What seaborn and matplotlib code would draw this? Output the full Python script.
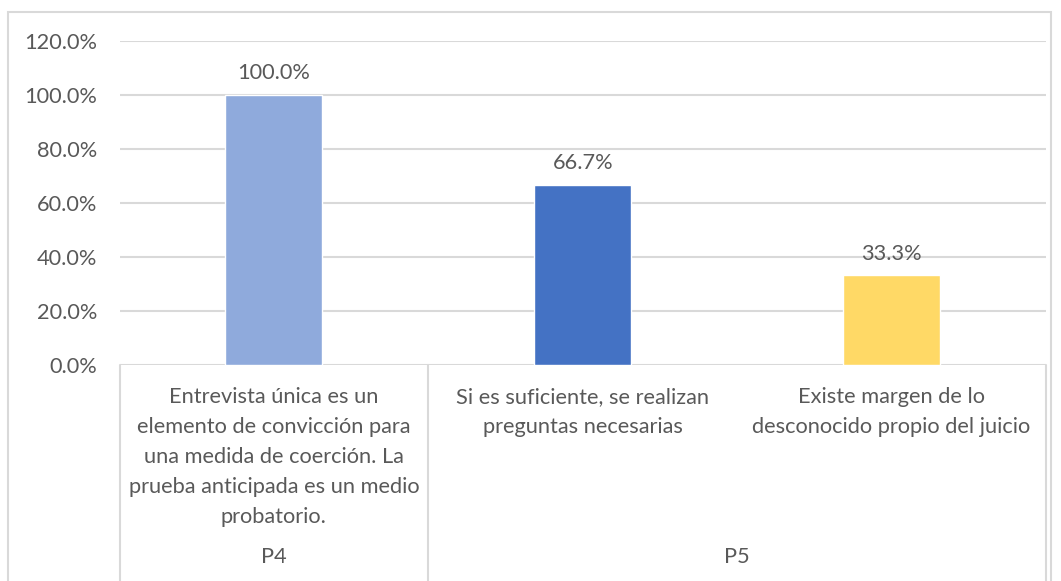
import matplotlib
matplotlib.use("Agg")
import matplotlib.pyplot as plt
import matplotlib.transforms as mtransforms
from matplotlib.patches import Rectangle
import seaborn as sns
import pandas as pd

categories = [
    "Entrevista única es un\nelemento de convicción para\nuna medida de coerción. La\nprueba anticipada es un medio\nprobatorio.",
    "Si es suficiente, se realizan\npreguntas necesarias",
    "Existe margen de lo\ndesconocido propio del juicio",
]
groups = ["P4", "P5", "P5"]
values = [100.0, 66.7, 33.3]
value_labels = ["100.0%", "66.7%", "33.3%"]
yticks = [0, 20, 40, 60, 80, 100, 120]
ytick_labels = ["0.0%", "20.0%", "40.0%", "60.0%", "80.0%", "100.0%", "120.0%"]
colors = ["#8FAADC", "#4472C4", "#FFD966"]

sns.set_theme(style="white")
plt.rcParams['font.family'] = ['Lato', 'DejaVu Sans']
TXT = "#595959"
GRID = "#D9D9D9"
FS = 15.7

W, H = 1061, 581
fig = plt.figure(figsize=(W / 100, H / 100), dpi=100)
x0, x1, y0, y1 = 119.5, 1046, 365, 41
ax = fig.add_axes([x0 / W, (H - y0) / H, (x1 - x0) / W, (y0 - y1) / H])

df = pd.DataFrame({"cat": categories, "val": values})
sns.barplot(data=df, x="cat", y="val", hue="cat", palette=colors,
            width=0.314, legend=False, ax=ax, saturation=1)

ax.set_ylim(0, 120)
ax.set_xlim(-0.5, 2.5)
ax.set_yticks(yticks)
ax.set_yticklabels(ytick_labels, color=TXT, fontsize=FS)
ax.tick_params(axis='y', length=0, pad=16)
ax.set_xticks([])
ax.set_xlabel("")
ax.set_ylabel("")
for s in ax.spines.values():
    s.set_visible(False)
ax.set_axisbelow(True)
ax.yaxis.grid(True, color=GRID, linewidth=1.5)

# value labels
for i, (v, lab) in enumerate(zip(values, value_labels)):
    ax.annotate(lab, (i, v), xytext=(0, 15.5), textcoords="offset points",
                ha="center", va="center", color=TXT, fontsize=FS)

trans = mtransforms.blended_transform_factory(ax.transData, ax.transAxes)
ax_h = y0 - y1
# inner category labels
for i, c in enumerate(categories):
    ax.text(i, -(387 - y0) / ax_h, c, transform=trans, ha="center", va="top",
            color=TXT, fontsize=FS, linespacing=1.63)

# group labels
grp_names = []
for g in groups:
    if g not in grp_names:
        grp_names.append(g)
for g in grp_names:
    idx = [i for i, gg in enumerate(groups) if gg == g]
    xc = (idx[0] + idx[-1]) / 2
    ax.text(xc, -(557 - y0) / ax_h, g, transform=trans, ha="center", va="center",
            color=TXT, fontsize=FS)

# separator lines below axis
bottom = -(H - y0 + 5) / ax_h
sep_x = [-0.5]
for i in range(1, len(groups)):
    if groups[i] != groups[i - 1]:
        sep_x.append(i - 0.5)
sep_x.append(len(groups) - 0.5)
for xs in sep_x:
    ax.plot([xs, xs], [0, bottom], transform=trans, color=GRID, linewidth=1.5,
            clip_on=False)

# outer chart border
fig.patches.append(Rectangle((8 / W, -0.05), (1051 - 8) / W, (H - 12) / H + 0.05,
                             transform=fig.transFigure, fill=False,
                             edgecolor=GRID, linewidth=1.5))

fig.savefig("out.png", dpi=100)
